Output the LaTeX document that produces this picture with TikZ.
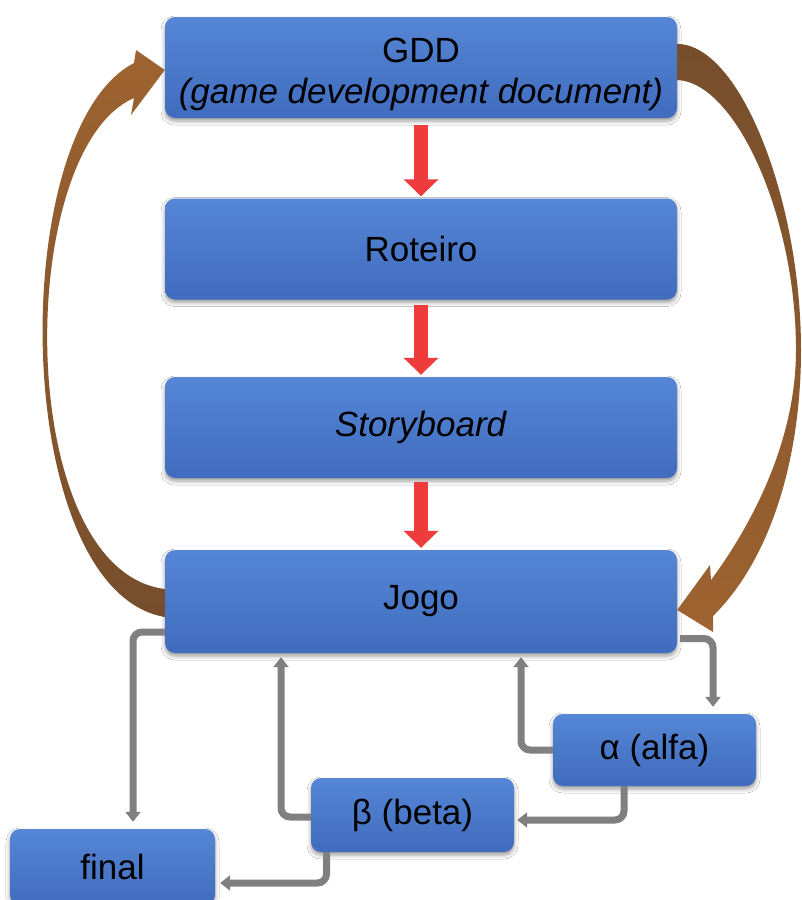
\documentclass[tikz,border=0pt]{standalone}
\usepackage{fontspec}
\setmainfont{Liberation Sans}
\usetikzlibrary{arrows.meta,calc,shadows.blur}
\definecolor{boxtop}{RGB}{86,134,214}
\definecolor{boxbot}{RGB}{64,108,190}
\definecolor{redarr}{RGB}{238,60,60}
\definecolor{grayarr}{RGB}{128,128,128}
\definecolor{brownlight}{RGB}{158,99,48}
\definecolor{browndark}{RGB}{118,78,44}
\begin{document}
\begin{tikzpicture}[x=1pt,y=-1pt,
  blk/.style={rectangle, rounded corners=10pt, minimum width=512pt, minimum height=101pt,
    inner sep=0pt, top color=boxtop, bottom color=boxbot, draw=none,
    blur shadow={shadow xshift=0pt, shadow yshift=-3pt, shadow blur radius=4pt, shadow opacity=40},
    font=\fontsize{35}{41}\selectfont, align=center, text=black},
  smallblk/.style={blk, minimum width=203pt, minimum height=72pt},
  redarrow/.style={draw=redarr, line width=14pt, -{Triangle[width=34pt,length=17pt]}},
  grayline/.style={draw=grayarr, line width=7pt, rounded corners=9pt, -{Triangle[width=15pt,length=10pt]}}
]
\fill[white] (0,0) rectangle (802,900);
\useasboundingbox (0,0) rectangle (802,900);
\clip (0,0) rectangle (802,900);

\node[blk] (gdd) at (421,67.5) {\rule{0pt}{38pt}GDD\\\textit{(game development document)}};
\node[blk] (rot) at (421,249) {Roteiro};
\node[blk] (sto) at (421,427.5) {\textit{Storyboard}};
\node[blk, minimum height=103pt] (jogo) at (421,601.5) {Jogo};
\node[smallblk] (alfa) at (654.5,750) {α (alfa)};
\node[smallblk, minimum height=74pt] (beta) at (412.5,815) {β (beta)};
\node[smallblk, minimum width=205pt, minimum height=76pt] (final) at (112.5,867) {final};

% red arrows
\draw[redarrow] ([yshift=-7pt]gdd.south) -- ([yshift=2pt]rot.north);
\draw[redarrow] ([yshift=-5pt]rot.south) -- ([yshift=2pt]sto.north);
\draw[redarrow] ([yshift=-4pt]sto.south) -- ([yshift=2pt]jogo.north);

% gray connectors
\draw[grayline] ([yshift=-30.5pt]jogo.west) -| ([xshift=20.5pt,yshift=7pt]final.north);
\draw[grayline] ([xshift=3pt,yshift=-37pt]jogo.east) -| ([xshift=58.5pt,yshift=7pt]alfa.north);
\draw[grayline] (alfa.west) -| ([xshift=100pt,yshift=-4pt]jogo.south);
\draw[grayline] ([xshift=-30.5pt]alfa.south) |- ([xshift=3pt,yshift=-5pt]beta.east);
\draw[grayline] ([yshift=-2pt]beta.west) -| ([xshift=-140pt,yshift=-4pt]jogo.south);
\draw[grayline] ([xshift=-86pt]beta.south) |- ([xshift=5pt,yshift=-16pt]final.east);

% brown curved arrows
\shade[top color=brownlight, bottom color=browndark]
  ($(jogo.west)+(0,15.5)$) .. controls (10,590) and (5,130) .. (134,63)
  -- (136,50) -- ($(gdd.west)+(0,2.5)$) -- (131,115) -- (134,98)
  .. controls (14,150) and (13,570) .. ($(jogo.west)+(0,-12.5)$) -- cycle;
\shade[top color=browndark, bottom color=brownlight]
  ($(gdd.east)+(0,-23.5)$) .. controls (740,44) and (801,200) .. (801,350)
  .. controls (801,460) and (770,560) .. (713,616)
  -- (713,632) -- ($(jogo.east)+(0,8.5)$) -- (710,565) -- (711,580)
  .. controls (748,530) and (796,445) .. (796,350)
  .. controls (796,215) and (735,82) .. ($(gdd.east)+(0,12.5)$) -- cycle;
\end{tikzpicture}
\end{document}
